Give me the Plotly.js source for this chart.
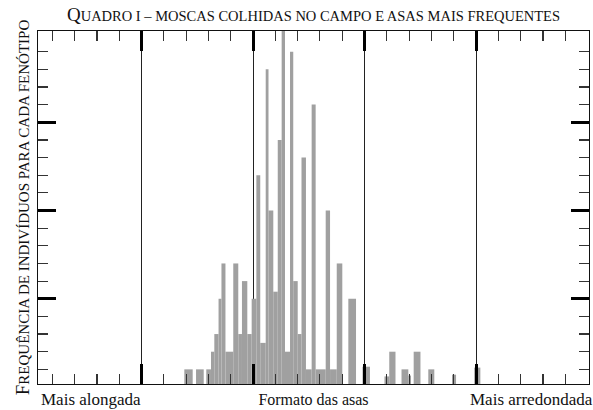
<!DOCTYPE html>
<html><head><meta charset="utf-8">
<script src="https://cdn.plot.ly/plotly-3.0.1.min.js"></script>
<style>html,body{margin:0;padding:0;background:#fff}#chart{width:593px;height:410px}</style>
</head><body><div id="chart"></div>
<script>
// Histogram bin edges (wing-shape scale) and frequencies
const binEdges = [13.84,14.59,14.89,15.58,15.81,16.23,16.53,16.91,17.17,17.53,18.23,18.68,19.01,19.49,19.88,20.30,20.65,21.14,21.39,21.82,22.22,22.57,22.87,23.32,23.61,24.01,24.35,24.75,25.26,25.62,26.52,26.91,27.51,28.01,28.55,29.24,29.82,30.49,31.79,32.22,32.78,33.32,33.93,34.17,34.41,35.02,35.72,36.26,37.85,38.21,39.84,40.39];
const frequencies = [1,0,1,0,1,2,3,5,7,2,7,3,6,3,5,12,2.5,18,10,5.4,14,21,2,19,6,3,13,1,16,1,10,1,7,0,5,0,1.15,0,0.6,2,0,1,0.65,0,2,0,1,0,0.7,0,1.1];
const xMajorTicks = [10,20,30,40];
const xMinorTicks = [2,4,6,8,12,14,16,18,22,24,26,28,32,34,36,38,42,44,46,48];
const yMajorTicks = [5,10,15];
const yMinorTicks = [1,2,3,4,6,7,8,9,11,12,13,14,16,17,18,19];
const chartTitle = '<span style="font-size:19px">Q</span>UADRO I – MOSCAS COLHIDAS NO CAMPO E ASAS MAIS FREQUENTES';
const yTitle = '<span style="font-size:19px">F</span>REQUÊNCIA DE INDIVÍDUOS PARA CADA FENÓTIPO';
const xTitle = 'Formato das asas';
const leftLabel = 'Mais alongada';
const rightLabel = 'Mais arredondada';

const centers = [], widths = [];
for (let i = 0; i < frequencies.length; i++) {
  centers.push((binEdges[i] + binEdges[i+1]) / 2);
  widths.push(binEdges[i+1] - binEdges[i]);
}

const serif = 'Liberation Serif, Times New Roman, serif';
const trace = {
  type: 'bar', x: centers, y: frequencies, width: widths,
  marker: {color: '#a0a0a0', line: {width: 0}},
  hoverinfo: 'skip'
};

const layout = {
  width: 593, height: 410,
  margin: {l: 38, r: 4, t: 31, b: 26},
  paper_bgcolor: '#fff', plot_bgcolor: '#fff',
  showlegend: false,
  font: {family: serif, color: '#111'},
  title: {text: chartTitle, font: {family: serif, size: 14.5, color: '#111'},
          x: 0.5, xref: 'paper', xanchor: 'center', y: 1 - 16/410, yref: 'container', yanchor: 'middle'},
  xaxis: {
    range: [0.717, 50.135], showline: true, linecolor: '#111', linewidth: 1.4, mirror: 'ticks',
    zeroline: false, showgrid: true, gridcolor: '#222', gridwidth: 1,
    tickmode: 'array', tickvals: xMajorTicks, ticks: 'inside', ticklen: 20, tickwidth: 3, tickcolor: '#000',
    showticklabels: false,
    minor: {tickmode: 'array', tickvals: xMinorTicks, ticks: 'inside', ticklen: 10, tickwidth: 1.2, tickcolor: '#333', showgrid: false},
    title: {text: xTitle, font: {family: serif, size: 16, color: '#111'}, standoff: 9}
  },
  yaxis: {
    range: [0.17, 20.17], showline: true, linecolor: '#111', linewidth: 1.4, mirror: 'ticks',
    zeroline: false, showgrid: false,
    tickmode: 'array', tickvals: yMajorTicks, ticks: 'inside', ticklen: 18, tickwidth: 3, tickcolor: '#000',
    showticklabels: false,
    minor: {tickmode: 'array', tickvals: yMinorTicks, ticks: 'inside', ticklen: 10, tickwidth: 1.2, tickcolor: '#333', showgrid: false},
    title: {text: yTitle, font: {family: serif, size: 15, color: '#111'}, standoff: 3}
  },
  annotations: [
    {text: leftLabel, xref: 'paper', yref: 'paper', x: (91-38)/551, y: -15/353, xanchor: 'center', yanchor: 'middle',
     showarrow: false, font: {family: serif, size: 17, color: '#111'}},
    {text: rightLabel, xref: 'paper', yref: 'paper', x: (531-38)/551, y: -15/353, xanchor: 'center', yanchor: 'middle',
     showarrow: false, font: {family: serif, size: 17, color: '#111'}}
  ]
};

Plotly.newPlot('chart', [trace], layout, {displayModeBar: false, staticPlot: true});
</script></body></html>
